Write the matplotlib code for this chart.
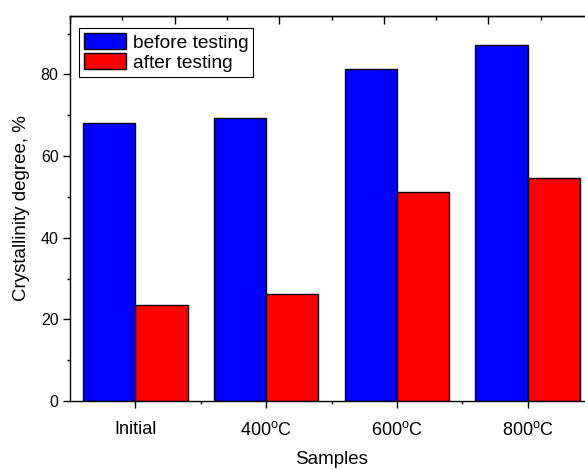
import matplotlib
matplotlib.use("Agg")
import matplotlib.pyplot as plt
import numpy as np

plt.rcParams["font.family"] = ["Liberation Sans", "DejaVu Sans"]
plt.rcParams["mathtext.fontset"] = "custom"
plt.rcParams["mathtext.rm"] = "Liberation Sans"

# Data
samples = ["Initial", r"400$^\mathregular{o}$C", r"600$^\mathregular{o}$C", r"800$^\mathregular{o}$C"]
before = [68.1, 69.3, 81.2, 87.3]
after = [23.5, 26.1, 51.2, 54.5]

x = np.arange(len(samples))
w = 0.4

fig = plt.figure(figsize=(5.85, 4.70), dpi=100)
# axes run a bit past the right edge, like the cropped original
ax = fig.add_axes([70 / 585, 69 / 470, 523 / 585, 385 / 470])

ax.bar(x - w / 2, before, w, color="#0000ff", edgecolor="black", linewidth=1, label="before testing")
ax.bar(x + w / 2, after, w, color="#ff0000", edgecolor="black", linewidth=1, label="after testing")

ax.set_xlim(-0.5, 3.5)
ax.set_ylim(0, 94.3)

ax.set_xticks(x)
ax.set_xticklabels(samples, fontsize=13)
ax.set_xticks(x[:-1] + 0.5, minor=True)
ax.set_yticks([0, 20, 40, 60, 80])
ax.set_yticks([10, 30, 50, 70, 90], minor=True)
ax.tick_params(axis="y", labelsize=11.5)
ax.tick_params(which="major", direction="out", length=5.2, width=1, pad=3)
ax.tick_params(axis="x", which="major", pad=9.5)
ax.tick_params(which="minor", direction="out", length=2.5, width=1)
ax.tick_params(top=False, right=False)

for s in ax.spines.values():
    s.set_linewidth(1)
ax.spines["right"].set_visible(False)

# top axis has its own tick spacing
top = ax.secondary_xaxis("top")
top.set_xticks(np.arange(-0.5, 3.6, 0.8))
top.set_xticks(np.arange(-0.1, 3.5, 0.8), minor=True)
top.set_xticklabels([])
top.tick_params(which="major", direction="in", length=5.5, width=1)
top.tick_params(which="minor", direction="in", length=2.7, width=1)
top.spines["top"].set_linewidth(1)

ax.set_xlabel("Samples", fontsize=13.5, labelpad=8)
ax.set_ylabel("Crystallinity degree, %", fontsize=13.5, labelpad=7.5)

leg = ax.legend(loc="upper left", bbox_to_anchor=(9 / 523, 1 - 12.3 / 385),
                borderaxespad=0, fontsize=13.8, fancybox=False, framealpha=1,
                edgecolor="black", handlelength=2.2, handleheight=0.92,
                handletextpad=0.35, labelspacing=0.08, borderpad=0.25)
leg.get_frame().set_linewidth(0.8)

fig.savefig("out.png", dpi=100)
